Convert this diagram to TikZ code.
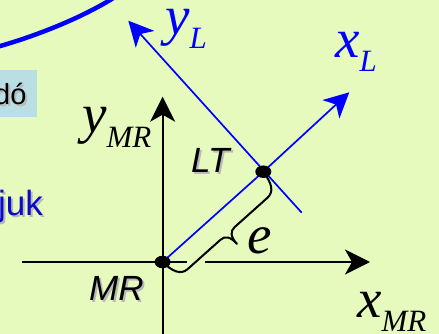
\documentclass[tikz,border=0pt]{standalone}
\usepackage{fontspec}
\setmainfont{Liberation Serif}
\newfontfamily\arialf{Liberation Sans}
\usetikzlibrary{arrows.meta,shapes.geometric}
\definecolor{bg}{RGB}{230,250,190}
\definecolor{boxblue}{RGB}{185,222,228}
\definecolor{jukblue}{RGB}{10,10,200}
\definecolor{shd}{RGB}{185,185,185}
\newcommand{\subl}[1]{\raisebox{-14pt}{\fontsize{31}{31}\selectfont #1}}
\newcommand{\shad}[1]{\rlap{\kern2pt\raisebox{-2pt}{\textcolor{shd}{#1}}}#1}
\begin{document}
\begin{tikzpicture}[x=1pt,y=-1pt,
  axis/.style={line width=2.2pt, black},
  blueaxis/.style={line width=1.7pt, blue},
  tipk/.style={-{Stealth[length=25pt,width=25pt,inset=7pt]}},
  dot/.style={ellipse, fill=black, inner sep=0pt, minimum width=16pt, minimum height=12.5pt},
  serlab/.style={inner sep=0pt, anchor=base west, font=\fontsize{55}{55}\selectfont\itshape},
  sanslab/.style={inner sep=0pt, anchor=base west, font=\arialf\itshape\fontsize{35}{35}\selectfont},
  bracestyle/.style={line width=2pt, black, line join=round, line cap=round}]
\useasboundingbox (0,0) rectangle (439,334);
\clip (0,0) rectangle (439,334);
\fill[bg] (0,0) rectangle (439,334);
% arc
\draw[blue, line width=4.5pt] (-5,47.5) .. controls (40,35) and (85,16) .. (115,-3);
% box
\fill[boxblue] (-2,70) rectangle (36.7,116.7);
\node[inner sep=0pt, anchor=base west, font=\arialf\fontsize{29}{29}\selectfont] (do) at (-6,105) {\shad{dó}};
\node[inner sep=0pt, anchor=base west, text=jukblue, font=\arialf\fontsize{35}{35}\selectfont] (juk) at (-2,215) {\shad{juk}};
% coordinates
\coordinate (MR) at (162.6,262);
\coordinate (LT) at (263.3,171.7);
\coordinate (xa) at (22,262);
\coordinate (g1) at (187,262);
\coordinate (g2) at (205,262);
\coordinate (xb) at (370,262);
\coordinate (ya) at (162.6,340);
\coordinate (yb) at (162.6,96.7);
\coordinate (xLtip) at (349.3,92.3);
\coordinate (yLa) at (301.7,212.7);
\coordinate (yLtip) at (128.3,20.7);
% x axis (with gap where the brace crosses)
\draw[axis] (xa) -- (g1);
\draw[axis, tipk] (g2) -- (xb);
% brace
\begin{scope}[shift={(MR)}, rotate=41.8]
\draw[bracestyle] (0,0) .. controls (1,14) and (5,22) .. (14,22) -- (58,22)
  .. controls (64,22) and (67.5,26) .. (67.5,36)
  .. controls (67.5,26) and (71,22) .. (77,22) -- (121,22)
  .. controls (130,22) and (134,14) .. (135.1,0);
\end{scope}
% y axis
\draw[axis, tipk] (ya) -- (yb);
% blue axes
\draw[blueaxis] (MR) -- (LT);
\draw[blueaxis, tipk] (LT) -- (xLtip);
\draw[blueaxis, tipk] (yLa) -- (yLtip);
% dots
\node[dot] (MRdot) at (MR) {};
\node[dot] (LTdot) at (LT) {};
% labels
\node[serlab, text=blue] (yL) at (165,35) {y\subl{L}};
\node[serlab, text=blue] (xL) at (335,58) {x\subl{L}};
\node[serlab] (yMR) at (82,133) {y\subl{MR}};
\node[serlab] (xMR) at (357,317) {x\subl{MR}};
\node[serlab] (e) at (247,253) {e};
\node[sanslab] (LTlab) at (191,172) {\shad{LT}};
\node[sanslab] (MRlab) at (89,300) {\shad{MR}};
\end{tikzpicture}
\end{document}
